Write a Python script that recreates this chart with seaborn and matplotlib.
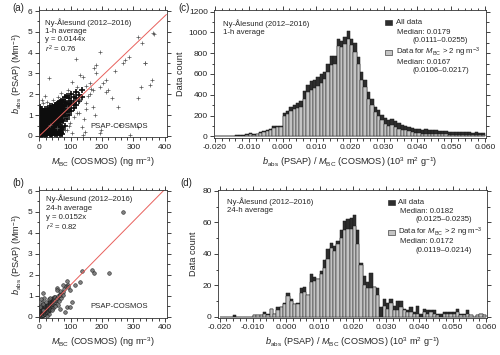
import numpy as np
import pandas as pd
import seaborn as sns
import matplotlib
matplotlib.use("Agg")
import matplotlib.pyplot as plt
from matplotlib.patches import Rectangle
from matplotlib.ticker import MultipleLocator, FuncFormatter

# ---------------- data ----------------
# Panel (a): 1-h averages, dense core (read column-wise) and scattered points
a_core_x = ([2]*10 + [5]*9 + [9]*9 + [13]*9 + [17]*10 + [21]*9 + [25]*10 + [29]*9 + [33]*11 + [37]*10
            + [41]*11 + [45]*10 + [49]*11 + [53]*10 + [57]*11 + [61]*10 + [65]*9 + [69]*8 + [73]*7
            + [77]*6 + [82]*6 + [88]*5 + [95]*4 + [102]*4 + [110]*3 + [118]*3 + [126]*2 + [135]*2)
a_core_y = [0.05, 0.2, 0.35, 0.5, 0.65, 0.8, 0.95, 1.1, 1.25, 1.4,
            0.1, 0.25, 0.4, 0.55, 0.7, 0.85, 1.0, 1.15, 1.3,
            0.02, 0.15, 0.3, 0.45, 0.6, 0.75, 0.9, 1.05, 1.2,
            0.08, 0.22, 0.36, 0.5, 0.64, 0.78, 0.92, 1.06, 1.2,
            0.03, 0.17, 0.31, 0.45, 0.59, 0.73, 0.87, 1.01, 1.15, 1.3,
            0.1, 0.24, 0.38, 0.52, 0.66, 0.8, 0.94, 1.08, 1.22,
            0.05, 0.19, 0.33, 0.47, 0.61, 0.75, 0.89, 1.03, 1.17, 1.31,
            0.12, 0.26, 0.4, 0.54, 0.68, 0.82, 0.96, 1.1, 1.24,
            0.04, 0.18, 0.32, 0.46, 0.6, 0.74, 0.88, 1.02, 1.16, 1.3, 1.42,
            0.1, 0.24, 0.38, 0.52, 0.66, 0.8, 0.94, 1.08, 1.22, 1.36,
            0.06, 0.2, 0.34, 0.48, 0.62, 0.76, 0.9, 1.04, 1.18, 1.32, 1.45,
            0.12, 0.26, 0.4, 0.54, 0.68, 0.82, 0.96, 1.1, 1.24, 1.38,
            0.08, 0.22, 0.36, 0.5, 0.64, 0.78, 0.92, 1.06, 1.2, 1.34, 1.5,
            0.15, 0.29, 0.43, 0.57, 0.71, 0.85, 0.99, 1.13, 1.27, 1.41,
            0.05, 0.2, 0.35, 0.5, 0.65, 0.8, 0.95, 1.1, 1.25, 1.4, 1.55,
            0.12, 0.28, 0.44, 0.6, 0.76, 0.92, 1.08, 1.24, 1.4, 1.6,
            0.06, 0.25, 0.45, 0.65, 0.85, 1.05, 1.25, 1.45, 1.65,
            0.15, 0.4, 0.65, 0.9, 1.1, 1.3, 1.5, 1.7,
            0.1, 0.45, 0.75, 1.0, 1.2, 1.4, 1.6,
            0.3, 0.7, 1.05, 1.3, 1.5, 1.75,
            0.5, 0.95, 1.2, 1.45, 1.65, 1.85,
            0.8, 1.15, 1.4, 1.6, 1.9,
            1.0, 1.3, 1.55, 1.8,
            1.2, 1.5, 1.7, 2.0,
            1.35, 1.6, 1.85,
            1.5, 1.8, 2.1,
            1.7, 1.95,
            1.85, 2.2]
a_out_x = [313, 326, 365, 362, 338, 285, 195, 117, 32, 182, 175, 214, 273, 212, 233, 251, 315, 358,
           324, 140, 161, 119, 92, 34, 135, 98, 119, 82, 145, 193, 45, 18, 129, 156, 172, 193, 204,
           172, 87, 257, 129, 182, 220, 352, 336, 267, 55, 177, 198, 140, 289, 315, 150, 105, 240,
           110, 125, 150, 160, 96, 88, 104, 142, 60, 70, 12, 8, 24, 150, 165]
a_out_y = [4.77, 4.48, 4.88, 4.95, 3.49, 3.8, 4.05, 3.68, 2.8, 3.0, 3.25, 2.7, 3.65, 2.13, 1.81, 1.41,
           1.81, 2.7, 2.37, 2.85, 2.53, 2.37, 2.2, 0.53, 0.45, 0.6, 1.09, 0.29, 0.2, 0.13, 1.73, 1.9,
           1.73, 1.9, 2.2, 2.37, 2.53, 1.4, 1.4, 0.53, 2.93, 3.4, 2.2, 2.45, 3.49, 3.49, 0.37, 1.0,
           0.29, 0.05, 0.05, 0.45, 2.4, 2.6, 3.1,
           0.9, 1.1, 1.6, 2.0, 0.5, 0.3, 0.15, 0.8, 1.85, 2.05, 1.6, 1.75, 1.65, 1.3, 2.25]
slope_a = 0.0144
r2_a = 0.76

# Panel (b): 24-h averages
b_x = ([1]*3 + [3]*5 + [5]*4 + [7]*5 + [9]*4 + [11]*5 + [13]*4 + [15]*5 + [17]*4 + [19]*5 + [21]*4
       + [23]*5 + [25]*4 + [27]*5 + [29]*4 + [31]*5 + [33]*4 + [35]*5 + [37]*4 + [39]*5 + [41]*4
       + [43]*4 + [45]*4 + [48]*4 + [51]*3 + [55]*2
       + [4, 8, 12, 2, 20, 30, 60, 62, 58, 45, 40, 30, 25, 50, 35, 66, 70, 75, 80, 85, 90, 65, 14, 6]
       + [267, 167, 223, 92, 129, 55, 13, 103, 66, 87, 98, 76, 135, 174, 87, 113, 55, 66, 82, 98, 13, 74])
b_y = ([0.02, 0.1, 0.2] + [0.0, 0.08, 0.16, 0.26, 0.36] + [0.03, 0.1, 0.18, 0.28]
       + [0.05, 0.13, 0.21, 0.3, 0.4] + [0.06, 0.14, 0.22, 0.32] + [0.08, 0.16, 0.24, 0.34, 0.45]
       + [0.1, 0.18, 0.26, 0.36] + [0.12, 0.2, 0.28, 0.38, 0.5] + [0.14, 0.22, 0.3, 0.4]
       + [0.15, 0.24, 0.32, 0.42, 0.52] + [0.18, 0.26, 0.35, 0.45] + [0.2, 0.28, 0.37, 0.47, 0.57]
       + [0.22, 0.3, 0.4, 0.5] + [0.25, 0.33, 0.42, 0.52, 0.62] + [0.28, 0.36, 0.45, 0.55]
       + [0.3, 0.38, 0.48, 0.58, 0.68] + [0.34, 0.42, 0.52, 0.62] + [0.38, 0.46, 0.56, 0.66, 0.74]
       + [0.42, 0.5, 0.6, 0.7] + [0.48, 0.56, 0.65, 0.75, 0.84] + [0.52, 0.6, 0.7, 0.8]
       + [0.56, 0.66, 0.76, 0.86] + [0.6, 0.7, 0.8, 0.9] + [0.65, 0.75, 0.85, 0.95]
       + [0.72, 0.82, 0.92] + [0.78, 0.9]
       + [0.55, 0.7, 0.62, 0.45, 0.7, 0.85, 1.0, 0.75, 0.55, 0.4, 0.3, 0.15, 0.05, 0.5, 0.9, 1.1,
          0.9, 1.2, 1.3, 1.45, 1.5, 1.25, 0.9, 0.85]
       + [5.01, 2.23, 2.07, 1.43, 1.67, 1.35, 1.11, 0.72, 1.03, 0.48, 1.27, 1.51, 2.2, 2.07, 1.72,
          1.51, 1.27, 0.35, 0.24, 0.48, 0.32, 1.03])
slope_b = 0.0152
r2_b = 0.82

# Histogram bins (left edges from -0.020 to 0.059, width 0.001)
bin_left = np.round(np.arange(-0.020, 0.060, 0.001), 3)

# Panel (c) 1-h counts: all data / data for M_BC > 2 ng m-3
c_all = [5, 6, 3, 4, 6, 5, 10, 12, 10, 20, 30, 22, 28, 40, 50, 60, 70, 100, 105, 100,
         225, 245, 280, 300, 320, 340, 437, 490, 530, 540, 570, 598, 620, 700, 775, 775, 935, 920, 958, 1010,
         932, 894, 765, 620, 540, 428, 363, 283, 250, 203, 178, 154, 172, 150, 125, 108, 98, 90, 84, 76,
         74, 66, 68, 62, 64, 58, 54, 50, 52, 46, 44, 42, 46, 40, 44, 38, 36, 40, 34, 36]
c_gt2 = [4, 4, 2, 3, 4, 4, 7, 9, 8, 14, 20, 16, 20, 30, 40, 50, 60, 85, 95, 92,
         200, 215, 240, 260, 270, 285, 360, 425, 450, 468, 482, 515, 555, 620, 688, 700, 868, 855, 887, 932,
         878, 813, 700, 540, 476, 363, 300, 235, 200, 154, 120, 100, 106, 90, 74, 64, 58, 51, 44, 37,
         34, 28, 27, 26, 25, 23, 21, 19, 19, 17, 17, 16, 16, 15, 15, 14, 14, 14, 13, 13]

# Panel (d) 24-h counts
d_all = [0, 0, 0, 0, 1, 0, 0, 0, 0, 0, 1, 1, 1, 3, 2, 5, 2, 6, 6, 9,
         15, 11, 8, 9, 18, 19, 14, 27, 25, 24, 29, 36, 43, 47, 45, 48, 55, 61, 62, 63,
         65, 55, 34, 26, 22, 28, 19, 18, 6, 11, 9, 11, 7, 10, 10, 5, 4, 6, 3, 7,
         2, 5, 4, 4, 4, 2, 2, 3, 3, 3, 3, 5, 2, 2, 4, 1, 0, 1, 2, 1]
d_gt2 = [0, 0, 0, 0, 0, 0, 0, 0, 0, 0, 1, 1, 1, 2, 1, 5, 2, 4, 6, 8,
         13, 10, 8, 8, 15, 16, 14, 22, 23, 24, 27, 31, 37, 44, 42, 46, 50, 55, 56, 56,
         58, 46, 33, 20, 18, 18, 19, 14, 0, 7, 5, 9, 4, 4, 6, 4, 3, 3, 2, 2,
         0, 3, 2, 3, 2, 1, 0, 2, 2, 2, 2, 3, 1, 1, 2, 1, 0, 1, 2, 1]

xticks_hist = [-0.02, -0.01, 0.0, 0.01, 0.02, 0.03, 0.04, 0.05, 0.06]

# ---------------- style ----------------
sns.set_theme(style="ticks")
plt.rcParams["font.family"] = ["Liberation Sans", "DejaVu Sans"]
plt.rcParams["mathtext.fontset"] = "custom"
plt.rcParams["mathtext.rm"] = "Liberation Sans"
plt.rcParams["mathtext.it"] = "Liberation Sans:italic"
plt.rcParams["mathtext.bf"] = "Liberation Sans:bold"
plt.rcParams["axes.unicode_minus"] = False
plt.rcParams["axes.linewidth"] = 0.6

FS_TICK = 6.0
FS_LAB = 6.6
FS_TXT = 5.6

W, H = 500, 355
fig = plt.figure(figsize=(W / 100, H / 100), dpi=100)


def px_axes(l, t, r, b):
    return fig.add_axes([l / W, 1 - b / H, (r - l) / W, (b - t) / H])


def ftext(x, y, s, **kw):
    kw.setdefault("fontsize", FS_TXT)
    kw.setdefault("va", "center")
    fig.text(x / W, 1 - y / H, s, **kw)


def style_axes(ax):
    ax.tick_params(axis="both", which="both", direction="out", top=True, right=True,
                   labeltop=False, labelright=False, width=0.6, labelsize=FS_TICK, pad=1.5,
                   colors="#222222")
    ax.tick_params(which="major", length=3)
    ax.tick_params(which="minor", length=1.8)
    for s in ax.spines.values():
        s.set_linewidth(0.6)
        s.set_color("#333333")


ax_a = px_axes(39, 10, 167, 137.5)
ax_b = px_axes(39, 190, 167, 318)
ax_c = px_axes(214, 10, 486, 138)
ax_d = px_axes(218, 190, 487, 318)

red = "#e8605c"

# ----- scatter (a) -----
sns.scatterplot(x=a_core_x, y=a_core_y, ax=ax_a, marker="+", color="#0d0d0d", s=13,
                linewidth=1.2, legend=False)
sns.scatterplot(x=a_out_x, y=a_out_y, ax=ax_a, marker="+", color="#555555", s=5,
                linewidth=0.5, legend=False)
fit_x = [0, 405]
sns.lineplot(x=fit_x, y=[slope_a * v for v in fit_x], ax=ax_a, color=red, linewidth=0.7)

# ----- scatter (b) -----
sns.scatterplot(x=b_x, y=b_y, ax=ax_b, marker="o", s=7, color="#6a6a6a",
                edgecolor="#111111", linewidth=0.4, alpha=0.85, legend=False)
sns.lineplot(x=fit_x, y=[slope_b * v for v in fit_x], ax=ax_b, color=red, linewidth=0.7)

for ax, ylo, yhi in [(ax_a, -0.072, 6.048), (ax_b, -0.062, 6.048)]:
    ax.set_xlim(-1, 407)
    ax.set_ylim(ylo, yhi)
    ax.xaxis.set_major_locator(MultipleLocator(100))
    ax.xaxis.set_minor_locator(MultipleLocator(20))
    ax.yaxis.set_major_locator(MultipleLocator(1))
    ax.yaxis.set_minor_locator(MultipleLocator(0.5))
    ax.set_xlabel(r"$M_{\rm BC}$ (COSMOS) (ng m$^{-3}$)", fontsize=FS_LAB, labelpad=3)
    ax.set_ylabel(r"$b_{\rm abs}$ (PSAP) (Mm$^{-1}$)", fontsize=FS_LAB, labelpad=3)
    style_axes(ax)

# ----- histograms -----
edges = list(bin_left) + [0.060]
centers = [v + 0.0005 for v in bin_left]
for ax, all_c, gt_c in [(ax_c, c_all, c_gt2), (ax_d, d_all, d_gt2)]:
    sns.histplot(x=centers, weights=all_c, bins=edges, ax=ax, color="#2e2e2e",
                 edgecolor="#1a1a1a", linewidth=0.35, alpha=1)
    sns.histplot(x=centers, weights=gt_c, bins=edges, ax=ax, color="#c4c4c4",
                 edgecolor="#1a1a1a", linewidth=0.35, alpha=1)
    ax.set_xticks(xticks_hist)
    ax.xaxis.set_minor_locator(MultipleLocator(0.002))
    ax.xaxis.set_major_formatter(FuncFormatter(lambda v, p: f"{v:.3f}"))
    ax.set_xlabel(r"$b_{\rm abs}$ (PSAP) / $M_{\rm BC}$ (COSMOS) (10$^3$ m$^2$ g$^{-1}$)",
                  fontsize=FS_LAB, labelpad=3)
    ax.set_ylabel("Data count", fontsize=FS_LAB, labelpad=3)
    style_axes(ax)

ax_c.set_xlim(-0.0203, 0.0603)
ax_c.set_ylim(-15, 1215)
ax_c.yaxis.set_major_locator(MultipleLocator(200))
ax_c.yaxis.set_minor_locator(MultipleLocator(100))
ax_d.set_xlim(-0.0205, 0.0603)
ax_d.set_ylim(-0.83, 80.6)
ax_d.yaxis.set_major_locator(MultipleLocator(20))
ax_d.yaxis.set_minor_locator(MultipleLocator(10))

# ----- text -----
ftext(12, 8, "(a)", fontsize=7)
ftext(12, 183, "(b)", fontsize=7)
ftext(178, 8, "(c)", fontsize=7)
ftext(180, 183, "(d)", fontsize=7)

ftext(45, 22.7, "Ny-Ålesund (2012–2016)")
ftext(45, 31.2, "1-h average")
ftext(45, 39.7, f"y = {slope_a}x")
ftext(45, 49, r"$r^2$" + f" = {r2_a}")
ftext(148, 126, "PSAP-COSMOS", ha="right")

ftext(45.5, 199, "Ny-Ålesund (2012–2016)")
ftext(45.5, 208.3, "24-h average")
ftext(45.5, 217.6, f"y = {slope_b}x")
ftext(45.5, 227, r"$r^2$" + f" = {r2_b}")
ftext(148, 306, "PSAP-COSMOS", ha="right")

ftext(223, 24, "Ny-Ålesund (2012–2016)")
ftext(223, 32.5, "1-h average")
ftext(227, 201.7, "Ny-Ålesund (2012–2016)")
ftext(227, 210.5, "24-h average")


def legend_block(x0, y_top, med_all, rng_all, med_gt, rng_gt):
    sq_w, sq_h = 7, 5
    for yy, col in [(y_top, "#2e2e2e"), (y_top + 30, "#c4c4c4")]:
        fig.add_artist(Rectangle((x0 / W, 1 - (yy + sq_h / 2) / H), sq_w / W, sq_h / H,
                                 transform=fig.transFigure, facecolor=col,
                                 edgecolor="#1a1a1a", linewidth=0.4))
    tx = x0 + 10.5
    ftext(tx, y_top, "All data")
    ftext(tx + 1.5, y_top + 9.5, f"Median: {med_all}")
    ftext(tx + 17, y_top + 18, rng_all)
    ftext(tx, y_top + 30, r"Data for $M_{\rm BC}$ > 2 ng m$^{-3}$")
    ftext(tx + 1.5, y_top + 39.3, f"Median: {med_gt}")
    ftext(tx + 17, y_top + 48, rng_gt)


legend_block(385, 22.7, "0.0179", "(0.0111–0.0255)", "0.0167", "(0.0106–0.0217)")
legend_block(388, 202, "0.0182", "(0.0125–0.0235)", "0.0172", "(0.0119–0.0214)")

fig.savefig("out.png", dpi=100)
